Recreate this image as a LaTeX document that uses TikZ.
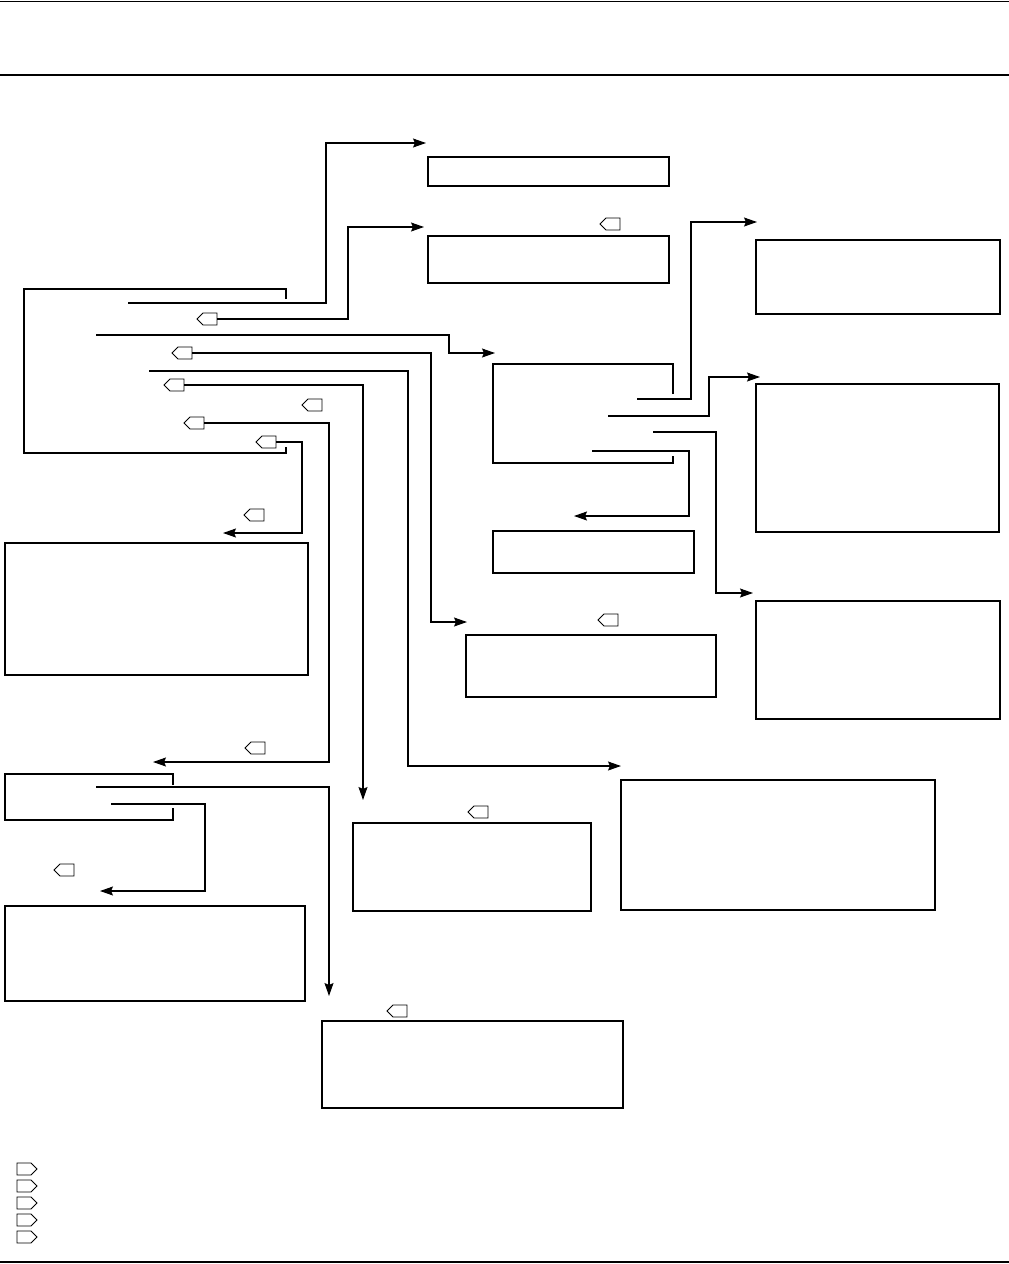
\documentclass[tikz,border=0pt]{standalone}
\usetikzlibrary{shapes.symbols,fit,arrows.meta}
\begin{document}
\begin{tikzpicture}[x=1pt,y=-1pt,
  box/.style={draw,line width=1.1pt,inner sep=0pt,rectangle},
  tagl/.style={draw,signal,signal to=west,line width=0.9pt,minimum width=20pt,minimum height=12pt,inner sep=0pt},
  tagr/.style={draw,signal,signal to=east,line width=0.9pt,minimum width=20pt,minimum height=12pt,inner sep=0pt},
  wire/.style={line width=1.1pt},
  arr/.style={wire,-{Stealth[length=13pt,width=9pt,inset=2pt]}},
  thinrule/.style={line width=1pt},
  thickrule/.style={line width=2pt}]
\useasboundingbox (0,0) rectangle (1009,1264);
% rules
\coordinate (r1a) at (0,1); \coordinate (r1b) at (1009,1);
\coordinate (r2a) at (0,75); \coordinate (r2b) at (1009,75);
\coordinate (r3a) at (0,1262); \coordinate (r3b) at (1009,1262);
\draw[thinrule] (r1a) -- (r1b);
\draw[thickrule] (r2a) -- (r2b);
\draw[thickrule] (r3a) -- (r3b);
% boxes
\node[box,fit={(428,157)(669,186)}] (bA) {};
\node[box,fit={(428,236)(669,283)}] (bB) {};
\node[box,fit={(756,240)(1000,314)}] (bC) {};
\node[box,fit={(756,384)(999,532)}] (bD) {};
\node[box,fit={(756,601)(1000,719)}] (bE) {};
\node[box,fit={(493,531)(694,573)}] (bG) {};
\node[box,fit={(466,635)(716,697)}] (bH) {};
\node[box,fit={(5,543)(308,675)}] (bI) {};
\node[box,fit={(5,906)(305,1001)}] (bK) {};
\node[box,fit={(353,823)(591,911)}] (bL) {};
\node[box,fit={(621,780)(935,910)}] (bM) {};
\node[box,fit={(322,1021)(623,1108)}] (bN) {};
% brackets
\coordinate (k1a) at (286,299); \coordinate (k1b) at (286,289); \coordinate (k1c) at (24,289);
\coordinate (k1d) at (24,453); \coordinate (k1e) at (286,453); \coordinate (k1f) at (286,447);
\draw[wire] (k1a) -- (k1b) -- (k1c) -- (k1d) -- (k1e) -- (k1f);
\coordinate (kFa) at (673,394); \coordinate (kFb) at (673,364); \coordinate (kFc) at (493,364);
\coordinate (kFd) at (493,463); \coordinate (kFe) at (673,463); \coordinate (kFf) at (673,456);
\draw[wire] (kFa) -- (kFb) -- (kFc) -- (kFd) -- (kFe) -- (kFf);
\coordinate (kJa) at (173,785); \coordinate (kJb) at (173,774); \coordinate (kJc) at (5,774);
\coordinate (kJd) at (5,820); \coordinate (kJe) at (173,820); \coordinate (kJf) at (173,808);
\draw[wire] (kJa) -- (kJb) -- (kJc) -- (kJd) -- (kJe) -- (kJf);
% tags
\node[tagl] (tB) at (613,224) {};
\node[tagl] (t1) at (210,319) {};
\node[tagl] (t2) at (185,353) {};
\node[tagl] (t3) at (177,385) {};
\node[tagl] (t4) at (315,405) {};
\node[tagl] (t5) at (197,423) {};
\node[tagl] (t6) at (269,442) {};
\node[tagl] (t7) at (257,515) {};
\node[tagl] (t8) at (258,748) {};
\node[tagl] (t9) at (67,870) {};
\node[tagl] (t10) at (481,812) {};
\node[tagl] (t11) at (400,1011) {};
\node[tagl] (t12) at (611,620) {};
\node[tagr] (g1) at (24,1169) {};
\node[tagr] (g2) at (24,1186) {};
\node[tagr] (g3) at (24,1203) {};
\node[tagr] (g4) at (24,1220) {};
\node[tagr] (g5) at (24,1237) {};
% free ends
\coordinate (sa) at (128,303); \coordinate (ea) at (426,143);
\coordinate (eb) at (424,227);
\coordinate (sc) at (96,335); \coordinate (ec) at (495,353);
\coordinate (ed) at (467,622);
\coordinate (se) at (149,371); \coordinate (ee) at (621,766);
\coordinate (ef) at (363,800);
\coordinate (eg) at (153,762);
\coordinate (eh) at (223,533);
\coordinate (si) at (637,399); \coordinate (ei) at (757,222);
\coordinate (sj) at (608,416); \coordinate (ej) at (760,377);
\coordinate (sk) at (653,432); \coordinate (ek) at (753,593);
\coordinate (sl) at (592,451); \coordinate (el) at (574,516);
\coordinate (sm) at (96,787); \coordinate (em) at (329,996);
\coordinate (sn) at (111,804); \coordinate (en) at (100,891);
% connectors
\draw[arr] (sa) -- (326,303) -- (326,143) -- (ea);
\draw[arr] (t1.east) -- (348,319) -- (348,227) -- (eb);
\draw[arr] (sc) -- (449,335) -- (449,353) -- (ec);
\draw[arr] (t2.east) -- (431,353) -- (431,622) -- (ed);
\draw[arr] (se) -- (408,371) -- (408,766) -- (ee);
\draw[arr] (t3.east) -- (363,385) -- (ef);
\draw[arr] (t5.east) -- (329,423) -- (329,762) -- (eg);
\draw[arr] (t6.east) -- (302,442) -- (302,533) -- (eh);
\draw[arr] (si) -- (691,399) -- (691,222) -- (ei);
\draw[arr] (sj) -- (709,416) -- (709,377) -- (ej);
\draw[arr] (sk) -- (716,432) -- (716,593) -- (ek);
\draw[arr] (sl) -- (689,451) -- (689,516) -- (el);
\draw[arr] (sm) -- (329,787) -- (em);
\draw[arr] (sn) -- (205,804) -- (205,891) -- (en);
\end{tikzpicture}
\end{document}
